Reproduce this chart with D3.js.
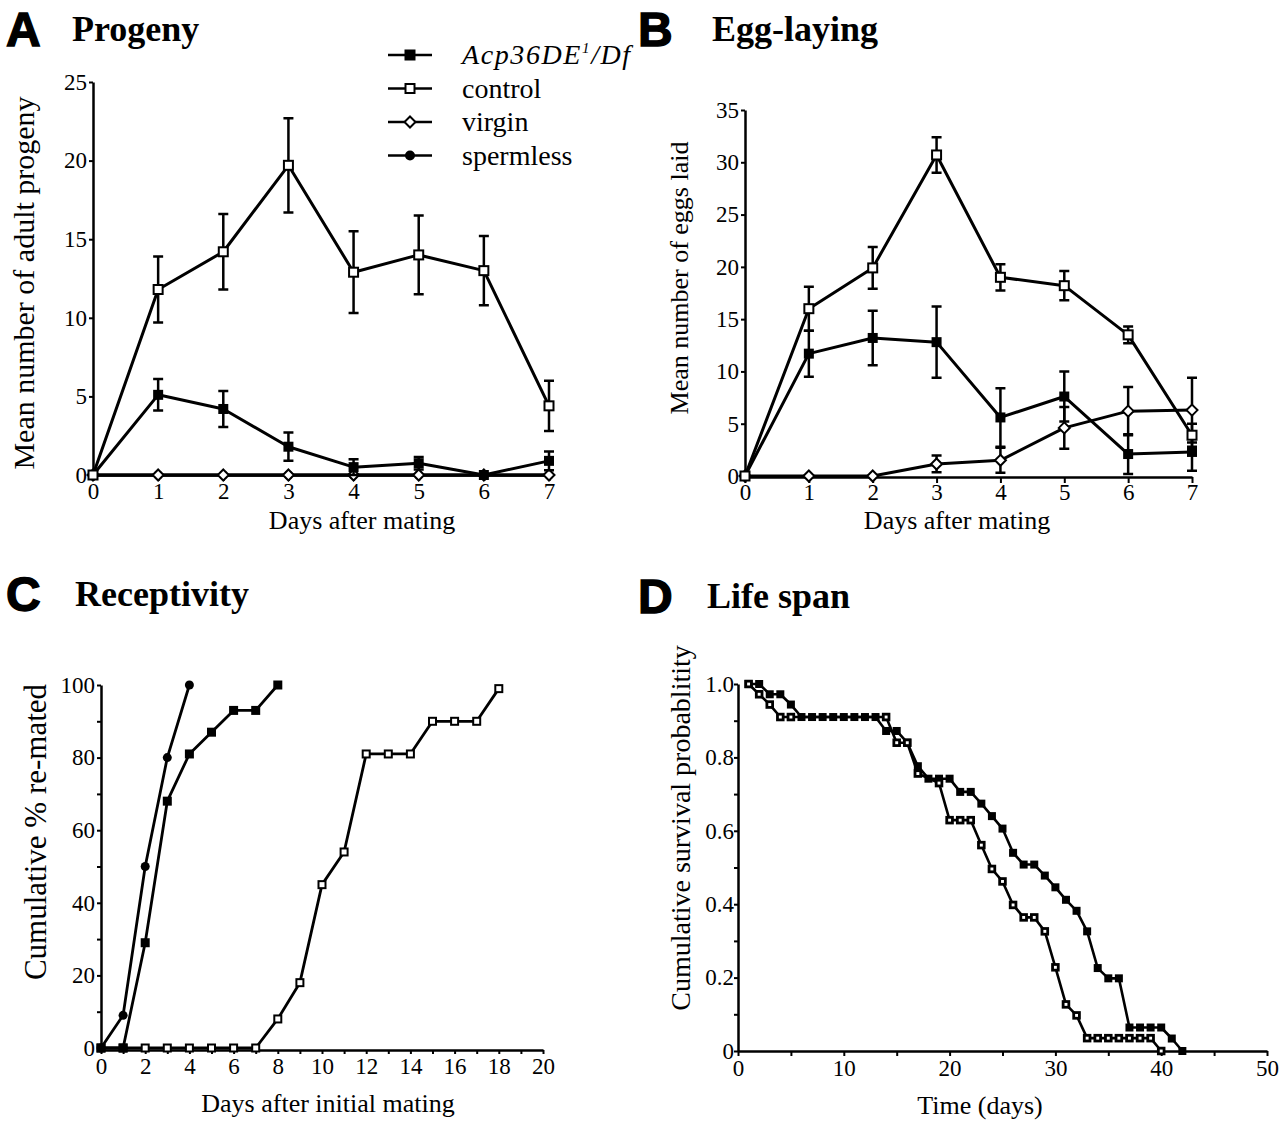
<!DOCTYPE html>
<html>
<head>
<meta charset="utf-8">
<script src="https://cdn.jsdelivr.net/npm/d3@7"></script>
<style>
  body { margin: 0; background: #fff; }
  svg text { fill: #000; }
</style>
</head>
<body>
<script>
// ---------- data ----------
const days = [0, 1, 2, 3, 4, 5, 6, 7];

// A  progeny
const progenyAcp = [0, 5.1, 4.2, 1.8, 0.5, 0.75, 0, 0.9];
const progenyAcpErr = [0, 1.0, 1.15, 0.9, 0.5, 0.4, 0, 0.6];
const progenyControl = [0, 11.8, 14.2, 19.7, 12.9, 14.0, 13.0, 4.4];
const progenyControlErr = [0, 2.1, 2.4, 3.0, 2.6, 2.5, 2.2, 1.6];
const progenyVirgin = [0, 0, 0, 0, 0, 0, 0, 0];
const progenySpermless = [0, 0, 0, 0, 0, 0, 0, 0];

// B  egg-laying
const eggsAcp = [0, 11.7, 13.2, 12.8, 5.6, 7.6, 2.1, 2.3];
const eggsAcpErr = [0, 2.2, 2.6, 3.4, 2.8, 2.4, 1.9, 1.8];
const eggsControl = [0, 16.0, 19.9, 30.7, 19.0, 18.2, 13.5, 3.9];
const eggsControlErr = [0, 2.1, 2.0, 1.7, 1.25, 1.4, 0.8, 1.1];
const eggsVirgin = [0, 0, 0, 1.15, 1.5, 4.6, 6.2, 6.3];
const eggsVirginErr = [0, 0, 0, 0.8, 1.2, 2.0, 2.3, 3.1];

// C  receptivity
const remateSpermlessDays = [0, 1, 2, 3, 4];
const remateSpermless = [0, 9, 50, 80, 100];
const remateAcpDays = [0, 1, 2, 3, 4, 5, 6, 7, 8];
const remateAcp = [0, 0, 29, 68, 81, 87, 93, 93, 100];
const remateControlDays = [0, 1, 2, 3, 4, 5, 6, 7, 8, 9, 10, 11, 12, 13, 14, 15, 16, 17, 18];
const remateControl = [0, 0, 0, 0, 0, 0, 0, 0, 8, 18, 45, 54, 81, 81, 81, 90, 90, 90, 99];

// D  life span
const survAcpDays = [1, 2, 3, 4, 5, 6, 7, 8, 9, 10, 11, 12, 13, 14, 15, 16, 17, 18, 19, 20, 21,
  22, 23, 24, 25, 26, 27, 28, 29, 30, 31, 32, 33, 34, 35, 36, 37, 38, 39, 40, 41, 42];
const survAcp = [1.0, 1.0, 0.972, 0.972, 0.944, 0.91, 0.91, 0.91, 0.91, 0.91, 0.91, 0.91, 0.91,
  0.872, 0.872, 0.84, 0.776, 0.742, 0.742, 0.742, 0.706, 0.706, 0.674, 0.64, 0.606, 0.54,
  0.508, 0.508, 0.478, 0.446, 0.412, 0.382, 0.326, 0.226, 0.198, 0.198, 0.064, 0.064, 0.064,
  0.064, 0.034, 0];
const survControlDays = [1, 2, 3, 4, 5, 14, 15, 16, 17, 19, 20, 21, 22, 23, 24, 25, 26, 27, 28,
  29, 30, 31, 32, 33, 34, 35, 36, 37, 38, 39, 40];
const survControl = [1.0, 0.972, 0.944, 0.91, 0.91, 0.91, 0.84, 0.84, 0.756, 0.73, 0.629, 0.629,
  0.629, 0.561, 0.496, 0.462, 0.398, 0.364, 0.364, 0.326, 0.228, 0.127, 0.097, 0.035, 0.035,
  0.035, 0.035, 0.035, 0.035, 0.035, 0];

const legendNames = ["Acp36DE", "control", "virgin", "spermless"];
const legendMarkers = ["filled", "open", "diamond", "circle"];

// ---------- helpers ----------
const SERIF = "'Liberation Serif', 'Times New Roman', serif";
const SANS = "'Liberation Sans', Arial, sans-serif";
const TICK_FONT = 23;

const svg = d3.select("body").append("svg")
    .attr("width", 1286)
    .attr("height", 1121);

function drawMarker(g, px, py, type, size) {
    let h = size / 2;
    if (type === "filled") {
        g.append("rect").attr("x", px - h).attr("y", py - h)
            .attr("width", size).attr("height", size).attr("fill", "#000");
    } else if (type === "open") {
        g.append("rect").attr("x", px - h + 1).attr("y", py - h + 1)
            .attr("width", size - 2).attr("height", size - 2)
            .attr("fill", "#fff").attr("stroke", "#000").attr("stroke-width", 2);
    } else if (type === "openThick") {
        g.append("rect").attr("x", px - h + 1.4).attr("y", py - h + 1.4)
            .attr("width", size - 2.8).attr("height", size - 2.8)
            .attr("fill", "#fff").attr("stroke", "#000").attr("stroke-width", 2.8);
    } else if (type === "diamond") {
        g.append("path")
            .attr("d", `M${px},${py - h}L${px + h},${py}L${px},${py + h}L${px - h},${py}Z`)
            .attr("fill", "#fff").attr("stroke", "#000").attr("stroke-width", 2);
    } else if (type === "circle") {
        g.append("circle").attr("cx", px).attr("cy", py).attr("r", h).attr("fill", "#000");
    }
}

function drawSeries(g, xs, ys, x, y, o) {
    let pts = xs.map((d, i) => [x(d), y(ys[i])]);
    g.append("path")
        .attr("d", d3.line()(pts))
        .attr("fill", "none")
        .attr("stroke", "#000")
        .attr("stroke-width", o.lineWidth || 3)
        .attr("stroke-linejoin", "round");

    if (o.err) {
        xs.forEach((d, i) => {
            let e = o.err[i];
            if (!e) return;
            let top = y(ys[i] + e), bot = y(Math.max(0, ys[i] - e));
            let cx = x(d), cw = o.cap || 5;
            g.append("path")
                .attr("d", `M${cx},${top}V${bot}M${cx - cw},${top}H${cx + cw}M${cx - cw},${bot}H${cx + cw}`)
                .attr("fill", "none").attr("stroke", "#000").attr("stroke-width", 2.5);
        });
    }
    pts.forEach(p => drawMarker(g, p[0], p[1], o.marker, o.size || 10));
}

function styleAxis(ax) {
    ax.attr("font-family", SERIF).attr("font-size", TICK_FONT);
    ax.select(".domain").attr("stroke-width", 2.5);
    ax.selectAll(".tick line").attr("stroke-width", 2);
    ax.selectAll(".tick text").attr("fill", "#000");
}

function panelHeading(letter, title, lx, ly, tx, ty) {
    svg.append("text").attr("x", lx).attr("y", ly)
        .attr("font-family", SANS).attr("font-weight", "bold").attr("font-size", 48)
        .attr("stroke", "#000").attr("stroke-width", 1.4)
        .text(letter);
    svg.append("text").attr("x", tx).attr("y", ty)
        .attr("font-family", SERIF).attr("font-weight", "bold").attr("font-size", 36)
        .text(title);
}

function axisLabels(xText, xx, xy, xSize, yText, yx, yy, ySize) {
    svg.append("text").attr("x", xx).attr("y", xy)
        .attr("text-anchor", "middle").attr("font-family", SERIF).attr("font-size", xSize)
        .text(xText);
    svg.append("text")
        .attr("transform", `translate(${yx},${yy}) rotate(-90)`)
        .attr("text-anchor", "middle").attr("font-family", SERIF).attr("font-size", ySize)
        .text(yText);
}

// ---------- A: Progeny ----------
{
    const x = d3.scaleLinear().domain([0, 7]).range([93, 549]);
    const y = d3.scaleLinear().domain([0, 25]).range([475, 82]);
    const g = svg.append("g");

    styleAxis(g.append("g").attr("transform", "translate(0,475)")
        .call(d3.axisBottom(x).tickValues(days).tickSize(6).tickSizeOuter(0).tickPadding(2)
            .tickFormat(d3.format("d"))));
    styleAxis(g.append("g").attr("transform", "translate(93,0)")
        .call(d3.axisLeft(y).tickValues([0, 5, 10, 15, 20, 25]).tickSize(4).tickSizeOuter(0)
            .tickPadding(2).tickFormat(d3.format("d"))));

    drawSeries(g, days, progenySpermless, x, y, { marker: "circle", size: 9 });
    drawSeries(g, days, progenyVirgin, x, y, { marker: "diamond", size: 11 });
    drawSeries(g, days, progenyAcp, x, y, { marker: "filled", err: progenyAcpErr, size: 10 });
    drawSeries(g, days, progenyControl, x, y, { marker: "open", err: progenyControlErr, size: 11 });

    panelHeading("A", "Progeny", 6, 46, 72, 41);
    axisLabels("Days after mating", 362, 529, 26, "Mean number of adult progeny", 34, 283, 30);

    // legend
    const lg = svg.append("g").attr("font-family", SERIF).attr("font-size", 28);
    legendNames.forEach((name, i) => {
        let ly = 55 + i * 33.5;
        lg.append("line").attr("x1", 388).attr("x2", 432).attr("y1", ly).attr("y2", ly)
            .attr("stroke", "#000").attr("stroke-width", 2.6);
        drawMarker(lg, 410, ly, legendMarkers[i], legendMarkers[i] === "circle" ? 10 : 11);
        let t = lg.append("text").attr("x", 462).attr("y", ly + 9);
        if (i === 0) {
            t.attr("font-style", "italic").attr("letter-spacing", 1.6);
            t.append("tspan").text(name);
            t.append("tspan").attr("font-size", 15).attr("dy", -11).text("1");
            t.append("tspan").attr("dy", 11).text("/Df");
        } else {
            t.text(name);
        }
    });
}

// ---------- B: Egg-laying ----------
{
    const x = d3.scaleLinear().domain([0, 7]).range([745, 1192]);
    const y = d3.scaleLinear().domain([0, 35]).range([476, 110]);
    const g = svg.append("g");

    styleAxis(g.append("g").attr("transform", "translate(0,477)")
        .call(d3.axisBottom(x).tickValues(days).tickSize(6).tickSizeOuter(0).tickPadding(1)
            .tickFormat(d3.format("d"))));
    styleAxis(g.append("g").attr("transform", "translate(745,0)")
        .call(d3.axisLeft(y).tickValues([0, 5, 10, 15, 20, 25, 30, 35]).tickSize(4).tickSizeOuter(0)
            .tickPadding(2).tickFormat(d3.format("d"))));

    drawSeries(g, days, eggsVirgin, x, y, { marker: "diamond", err: eggsVirginErr, size: 11 });
    drawSeries(g, days, eggsAcp, x, y, { marker: "filled", err: eggsAcpErr, size: 10 });
    drawSeries(g, days, eggsControl, x, y, { marker: "open", err: eggsControlErr, size: 11 });

    panelHeading("B", "Egg-laying", 638, 46, 712, 41);
    axisLabels("Days after mating", 957, 529, 26, "Mean number of eggs laid", 688, 278, 26);
}

// ---------- C: Receptivity ----------
{
    const x = d3.scaleLinear().domain([0, 20]).range([101, 543]);
    const y = d3.scaleLinear().domain([0, 100]).range([1048, 685]);
    const g = svg.append("g");

    styleAxis(g.append("g").attr("transform", "translate(0,1050)")
        .call(d3.axisBottom(x).ticks(20).tickSize(4).tickSizeOuter(0).tickPadding(4)
            .tickFormat(d => d % 2 === 0 ? d : "")));
    styleAxis(g.append("g").attr("transform", "translate(101,0)")
        .call(d3.axisLeft(y).ticks(10).tickSize(4).tickSizeOuter(0).tickPadding(2)
            .tickFormat(d => d % 20 === 0 ? d : "")));

    drawSeries(g, remateControlDays, remateControl, x, y, { marker: "open", size: 9, lineWidth: 2.8 });
    drawSeries(g, remateAcpDays, remateAcp, x, y, { marker: "filled", size: 9, lineWidth: 2.8 });
    drawSeries(g, remateSpermlessDays, remateSpermless, x, y, { marker: "circle", size: 9, lineWidth: 2.8 });

    panelHeading("C", "Receptivity", 6, 611, 75, 606);
    axisLabels("Days after initial mating", 328, 1112, 26, "Cumulative % re-mated", 46, 832, 31);
}

// ---------- D: Life span ----------
{
    const x = d3.scaleLinear().domain([0, 50]).range([738, 1267]);
    const y = d3.scaleLinear().domain([0, 1]).range([1051, 684]);
    const g = svg.append("g");

    styleAxis(g.append("g").attr("transform", "translate(0,1051)")
        .call(d3.axisBottom(x).ticks(10).tickSize(5).tickSizeOuter(0).tickPadding(4)
            .tickFormat(d => d % 10 === 0 ? d : "")));
    styleAxis(g.append("g").attr("transform", "translate(738,0)")
        .call(d3.axisLeft(y).ticks(10).tickSize(4).tickSizeOuter(0).tickPadding(0)
            .tickFormat(d => Math.round(d * 10) % 2 === 0 ? (d === 0 ? "0" : d3.format(".1f")(d)) : "")));

    drawSeries(g, survAcpDays, survAcp, x, y, { marker: "filled", size: 8, lineWidth: 2.6 });
    drawSeries(g, survControlDays, survControl, x, y, { marker: "openThick", size: 8.5, lineWidth: 2.6 });

    panelHeading("D", "Life span", 638, 613, 707, 608);
    axisLabels("Time (days)", 980, 1114, 26, "Cumulative survival probablitity", 690, 828, 28);
}
</script>
</body>
</html>
